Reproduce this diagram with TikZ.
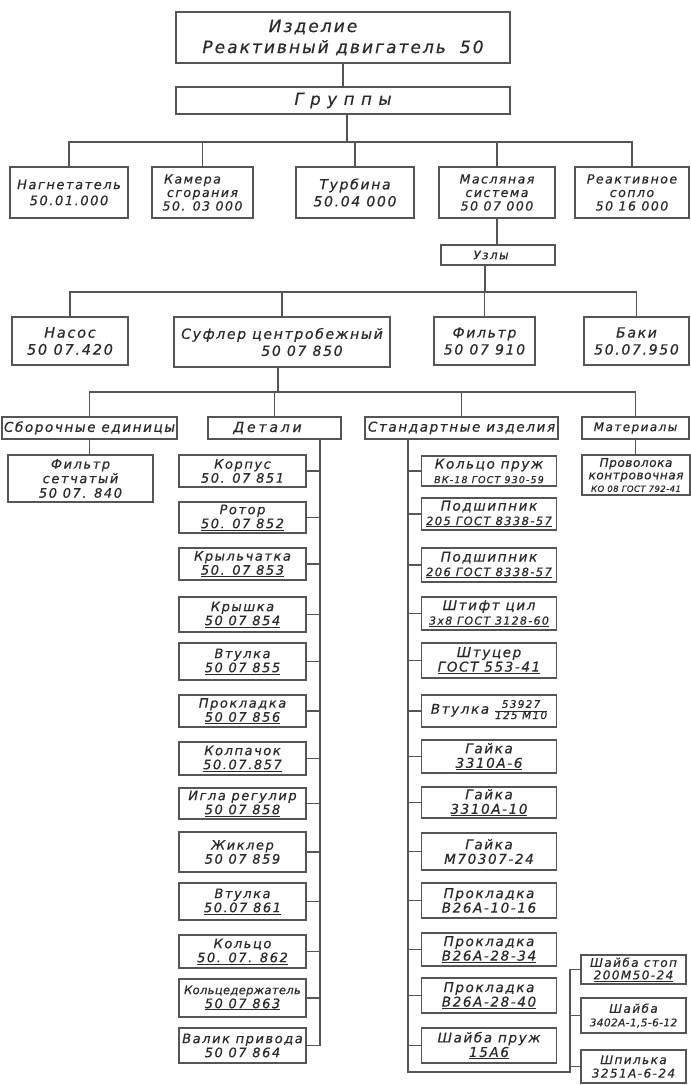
\documentclass[tikz,border=0pt]{standalone}
\usepackage{fontspec}
\newfontfamily\gost{DejaVu Sans}[LetterSpace=12, FakeBold=0.5]
\definecolor{lc}{HTML}{555555}
\definecolor{tc}{HTML}{2A2A2A}
\newcommand{\fsz}[2]{\fontsize{#1}{#2}\selectfont}
\tikzset{
  bx/.style={draw=lc, line width=1.3pt, inner sep=1pt, text=tc, align=center,
             font=\gost\itshape\fsz{13}{14}},
  bxs/.style 2 args={bx, minimum width=#1, minimum height=#2},
  ln/.style={draw=lc, line width=1.2pt},
}
\begin{document}
\begin{tikzpicture}[x=1pt,y=-1pt]
\fill[white] (0,0) rectangle (691,1085);
\useasboundingbox (0,0) rectangle (691,1085);

% top levels
\node[bxs={334}{51}, font=\gost\itshape\fsz{17}{21}] (top) at (343,37.5)
  {Изделие\hspace*{60pt}\\Реактивный двигатель\hspace{14pt}50};
\node[bxs={334}{27}, font=\gost\itshape\fsz{16.5}{19}\addfontfeatures{LetterSpace=40}] (grp) at (343,100.5) {Группы};
\draw[ln] (top) -- (grp);

% groups
\coordinate (b1) at (347,142);
\node[bxs={118}{51}, font=\gost\itshape\fsz{13}{16}] (g1) at (69,192.5) {Нагнетатель\\50.01.000};
\node[bxs={101}{51}, font=\gost\itshape\fsz{12.5}{13.5}] (g2) at (202.5,192.5) {Камера\hspace*{20pt}\\сгорания\\50. 03 000};
\node[bxs={118}{51}, font=\gost\itshape\fsz{14}{17}] (g3) at (355,192.5) {Турбина\\50.04 000};
\node[bxs={116}{51}, font=\gost\itshape\fsz{12.5}{13.5}] (g4) at (497,192.5) {Масляная\\система\\50 07 000};
\node[bxs={114}{51}, font=\gost\itshape\fsz{12.5}{13.5}] (g5) at (632,192.5) {Реактивное\\сопло\\50 16 000};
\draw[ln] (grp.south -| b1) -- (b1);
\foreach \g in {g1,g2,g3,g4,g5}{\draw[ln] (\g.north) |- (b1);}

% units
\node[bxs={114}{20}, font=\gost\itshape\fsz{12}{14}] (uzly) at (498,255) {Узлы\hspace*{14pt}};
\draw[ln] (g4.south) -- (g4.south |- uzly.north);
\coordinate (b2) at (485,292);
\node[bxs={116}{48}, font=\gost\itshape\fsz{14.5}{17}] (u1) at (70,341) {Насос\\50 07.420};
\node[bxs={216}{50}, font=\gost\itshape\fsz{14}{17}] (u2) at (282,342) {Суфлер центробежный\\\hspace*{40pt}50 07 850};
\node[bxs={101}{48}, font=\gost\itshape\fsz{14}{17}] (u3) at (484.5,341) {Фильтр\\50 07 910};
\node[bxs={105}{48}, font=\gost\itshape\fsz{14}{17}] (u4) at (636.5,341) {Баки\\50.07.950};
\draw[ln] (uzly.south -| b2) -- (b2);
\foreach \u in {u1,u2,u3,u4}{\draw[ln] (\u.north) |- (b2);}

% categories
\coordinate (b3) at (278,392);
\node[bxs={175}{22}, font=\gost\itshape\fsz{13.5}{16}] (c1) at (89.5,428) {Сборочные единицы};
\node[bxs={133}{22}, font=\gost\itshape\fsz{14}{16}\addfontfeatures{LetterSpace=20}] (c2) at (274.5,428) {Детали\hspace*{14pt}};
\node[bxs={193}{22}, font=\gost\itshape\fsz{13.5}{16}] (c3) at (461.5,428) {Стандартные изделия};
\node[bxs={107}{22}, font=\gost\itshape\fsz{12}{16}] (c4) at (635.5,428) {Материалы};
\draw[ln] (u2.south -| b3) -- (b3);
\foreach \c in {c1,c2,c3,c4}{\draw[ln] (\c.north) |- (b3);}

% assembly unit and material
\node[bxs={145}{47}, font=\gost\itshape\fsz{13}{14.5}] (f1) at (80.5,478.5) {Фильтр\\сетчатый\hspace*{20pt}\\50 07. 840};
\draw[ln] (c1.south) -- (c1.south |- f1.north);
\node[bxs={108}{40}, font=\gost\itshape\fsz{12}{12.5}\addfontfeatures{LetterSpace=5}] (m1) at (636,475) {Проволока\\контровочная\\{\fsz{8.5}{9.5}КО 08 ГОСТ 792-41}};
\draw[ln] (c4.south) -- (c4.south |- m1.north);

% details
\coordinate (dbus) at (320,1046);
\draw[ln] (c2.south -| dbus) -- (dbus);
\foreach \i/\yc/\hh/\tx in {
  1/471/32/{Корпус\\50. 07 851},
  2/517.5/31/{Ротор\\\underline{50. 07 852}},
  3/564/32/{Крыльчатка\\\underline{50. 07 853}},
  4/614.5/35/{Крышка\\\underline{50 07 854}},
  5/661.5/37/{Втулка\\\underline{50 07 855}},
  6/711/32/{Прокладка\\\underline{50 07 856}},
  7/758.5/33/{Колпачок\\\underline{50.07.857}},
  8/803.5/31/{Игла регулир\\\underline{50 07 858}},
  9/852/40/{Жиклер\\50 07 859},
  10/901.5/37/{Втулка\\\underline{50.07 861}},
  11/951.5/33/{Кольцо\\\underline{50. 07. 862}},
  12/998/38/{{\fsz{11.5}{13}\addfontfeatures{LetterSpace=3}Кольцедержатель}\\\underline{50 07 863}},
  13/1045.5/35/{Валик привода\\50 07 864}}{
  \node[bxs={127}{\hh}] (d\i) at (242.5,\yc) {\tx};
  \draw[ln] (d\i.east) -- (d\i.east -| dbus);
}

% standard items
\coordinate (sbus) at (408,1072);
\coordinate (scor) at (570,1072);
\foreach \i/\yc/\hh/\tx in {
  1/471/30/{Кольцо пруж\\{\fsz{9.5}{11}ВК-18 ГОСТ 930-59}},
  2/514/32/{Подшипник\\{\fsz{11.5}{13}\underline{205 ГОСТ 8338-57}}},
  3/565/34/{Подшипник\\{\fsz{11.5}{13}\underline{206 ГОСТ 8338-57}}},
  4/613.5/33/{Штифт цил\\{\fsz{11}{12}\underline{3х8 ГОСТ 3128-60}}},
  5/660.5/35/{Штуцер\\\underline{ГОСТ 553-41}},
  7/756.5/33/{Гайка\\\underline{3310А-6}},
  8/802.5/31/{Гайка\\\underline{3310А-10}},
  9/851.5/37/{Гайка\\М70307-24},
  10/900.5/35/{Прокладка\\В26А-10-16},
  11/949.5/33/{Прокладка\\\underline{В26А-28-34}},
  12/995.5/35/{Прокладка\\\underline{В26А-28-40}},
  13/1045.5/35/{Шайба пруж\\\underline{15А6}}}{
  \node[bxs={135}{\hh}, font=\gost\itshape\fsz{13.5}{14.5}] (s\i) at (489,\yc) {\tx};
  \draw[ln] (s\i.west) -- (s\i.west -| sbus);
}
\node[bxs={135}{32}, font=\gost\itshape\fsz{13.5}{14}] (s6) at (489,711)
  {Втулка~{\fsz{10.5}{11}\renewcommand\arraystretch{0.9}\begin{tabular}[c]{@{}c@{}}53927\\\hline 125 М10\end{tabular}}};
\draw[ln] (s6.west) -- (s6.west -| sbus);

% sub-items of standard items
\node[bxs={105}{29}, font=\gost\itshape\fsz{12}{12.5}] (x1) at (633.5,969.5) {Шайба стоп\\\underline{200М50-24}};
\node[bxs={105}{35}, font=\gost\itshape\fsz{12}{13.5}] (x2) at (633.5,1015.5) {Шайба\\{\fsz{10.5}{12}\addfontfeatures{LetterSpace=4}3402А-1,5-6-12}};
\node[bxs={105}{33}, font=\gost\itshape\fsz{12}{13.5}] (x3) at (633.5,1066.5) {Шпилька\\3251А-6-24};
\draw[ln] (c3.south -| sbus) -- (sbus) -- (scor) |- (x1.west);
\draw[ln] (x2.west) -- (x2.west -| scor);
\draw[ln] (x3.west) -- (x3.west -| scor);
\end{tikzpicture}
\end{document}
